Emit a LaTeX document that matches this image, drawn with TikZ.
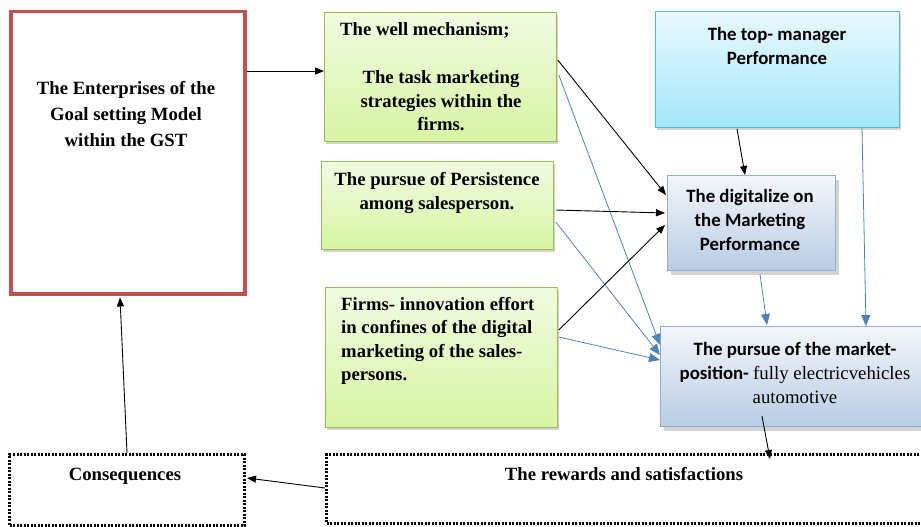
\documentclass[tikz,border=0pt]{standalone}
\usepackage{fontspec}
\setmainfont{Liberation Serif}
\newfontfamily\calibri{Carlito}
\usetikzlibrary{arrows.meta,calc,shadows}
\definecolor{entred}{HTML}{C0504D}
\definecolor{grborder}{HTML}{9BBB59}
\definecolor{grtop}{HTML}{F1FBE0}
\definecolor{grbot}{HTML}{D6F5A4}
\definecolor{cyborder}{HTML}{5BB8D4}
\definecolor{cytop}{HTML}{E8F9FF}
\definecolor{cybot}{HTML}{A4E6FA}
\definecolor{blborder}{HTML}{8FAFD8}
\definecolor{bltop}{HTML}{F3F6FB}
\definecolor{blbot}{HTML}{B8CCE4}
\definecolor{arrblue}{HTML}{4F81BD}

\begin{document}
\begin{tikzpicture}[x=1pt,y=-1pt,
    boxbase/.style={anchor=north west,inner sep=0pt},
    entbox/.style={boxbase,draw=entred,line width=3.5pt},
    greenbox/.style={boxbase,draw=grborder,line width=0.8pt,top color=grtop,bottom color=grbot,
      drop shadow={shadow xshift=2pt,shadow yshift=-3pt,opacity=0.35}},
    cyanbox/.style={boxbase,draw=cyborder,line width=0.8pt,top color=cytop,bottom color=cybot,
      drop shadow={shadow xshift=2pt,shadow yshift=-3pt,opacity=0.35}},
    bluebox/.style={boxbase,draw=blborder,line width=1.2pt,top color=bltop,bottom color=blbot,
      drop shadow={shadow xshift=3pt,shadow yshift=-4pt,opacity=0.35}},
    dotbox/.style={boxbase,draw,line width=3pt,dash pattern=on 2pt off 1.5pt},
    txt/.style={align=center,inner sep=0pt,font=\bfseries\fontsize{18.7}{23.5}\selectfont},
    sanstxt/.style={align=center,inner sep=0pt,font=\calibri\bfseries\fontsize{18.8}{24}\selectfont},
    blackarr/.style={draw=black,line width=0.9pt,-{Triangle[length=9pt,width=7pt]}},
    bluearr/.style={draw=arrblue,line width=0.8pt,-{Triangle[length=11pt,width=9pt]}}]
  \useasboundingbox (0,0) rectangle (921,527);

  \node [entbox,minimum width=234pt,minimum height=282pt] (ent) at (9,10) {};
  \node [greenbox,minimum width=232pt,minimum height=129pt] (g1) at (324,12) {};
  \node [greenbox,minimum width=232pt,minimum height=88pt] (g2) at (321,161) {};
  \node [greenbox,minimum width=232pt,minimum height=140pt] (g3) at (325,287) {};
  \node [cyanbox,minimum width=244pt,minimum height=116pt] (top) at (655,11) {};
  \node [bluebox,minimum width=168pt,minimum height=95pt] (dig) at (667,175) {};
  \node [bluebox,minimum width=275pt,minimum height=100pt] (mkt) at (660,326) {};
  \node [dotbox,minimum width=235pt,minimum height=71pt] (cons) at (8,453) {};
  \node [dotbox,minimum width=610pt,minimum height=69pt] (rew) at (325,453) {};

  \node [txt,font=\bfseries\fontsize{18.7}{26}\selectfont] (ent-txt) at (126,114) {The Enterprises of the\\Goal setting Model\\within the GST};
  \node [txt,anchor=west] (g1-top) at (340,30) {The well mechanism;};
  \node [txt] (g1-txt) at (441,101) {The task marketing\\strategies within the\\firms.};
  \node [txt] (g2-txt) at (437,193) {The pursue of Persistence\\among salesperson.};
  \node [txt,align=left,anchor=west] (g3-txt) at (341,341) {Firms- innovation effort\\in confines of the digital\\marketing of the sales-\\persons.};
  \node [sanstxt] (top-txt) at (777,46) {The top- manager\\Performance};
  \node [sanstxt] (dig-txt) at (750,220) {The digitalize on\\the Marketing\\Performance};
  \node [sanstxt] (mkt-txt) at (795,373) {The pursue of the market-\\position- {\mdseries\rmfamily fully electricvehicles}\\{\mdseries\rmfamily automotive}};
  \node [txt] (cons-txt) at (125,476) {Consequences};
  \node [txt] (rew-txt) at (624,474) {The rewards and satisfactions};

  \draw [blackarr] ($(ent.north east)+(0,61)$) -- ($(g1.north west)+(0,59)$);
  \draw [blackarr] ($(g1.north east)+(1,48)$) -- ($(dig.north west)+(-1,20)$);
  \draw [bluearr] ($(g1.north east)+(2,63)$) -- ($(mkt.north west)+(0,19)$);
  \draw [blackarr] ($(g2.north east)+(2,49)$) -- ($(dig.north west)+(-2,38)$);
  \draw [bluearr] ($(g2.north east)+(2,61)$) -- ($(mkt.north west)+(0,29)$);
  \draw [blackarr] ($(g3.north east)+(1,43)$) -- ($(dig.north west)+(-2,50)$);
  \draw [bluearr] ($(g3.north east)+(1,50)$) -- ($(mkt.north west)+(0,34)$);
  \draw [blackarr] ($(top.south west)+(82,1)$) -- ($(dig.north west)+(78,0)$);
  \draw [bluearr] ($(top.south west)+(207,0)$) -- ($(mkt.north west)+(206,0)$);
  \draw [bluearr] ($(dig.south west)+(93,3)$) -- ($(mkt.north west)+(107,-1)$);
  \draw [blackarr] ($(mkt.south west)+(102,-11)$) -- ($(rew.north west)+(445,6)$);
  \draw [blackarr] ($(rew.north west)+(0,35)$) -- ($(cons.north east)+(1,25)$);
  \draw [blackarr] ($(cons.north west)+(119,0)$) -- ($(ent.south west)+(111,2)$);
\end{tikzpicture}
\end{document}
